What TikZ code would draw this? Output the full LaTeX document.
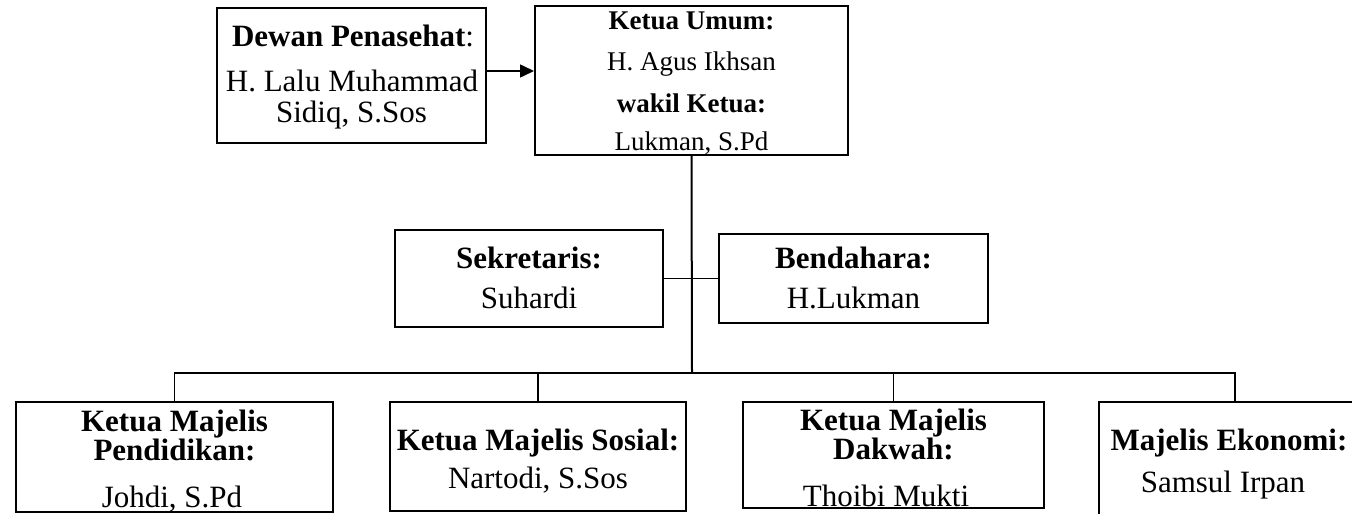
\documentclass[tikz,border=0pt]{standalone}
\usepackage{fontspec}
\setmainfont{Liberation Serif}
\usetikzlibrary{arrows.meta}
\tikzset{
  box/.style={draw=black, line width=2pt, rectangle, inner sep=0pt, fill=white},
  conn/.style={draw=black, line width=1.6pt},
  big/.style={anchor=base, inner sep=0pt, font=\fontsize{31}{31}\selectfont},
  mid/.style={anchor=base, inner sep=0pt, font=\fontsize{27}{27}\selectfont},
}
\begin{document}
\begin{tikzpicture}[x=1pt,y=-1pt]
\useasboundingbox (0,0) rectangle (1352,514);
\clip (0,0) rectangle (1352,514);
\fill[white] (0,0) rectangle (1352,514);

% boxes
\node[box, minimum width=269pt, minimum height=135pt] (dewan) at (351.5,75.5) {};
\node[box, minimum width=313pt, minimum height=149pt] (ketua) at (691.5,80.5) {};
\node[box, minimum width=268pt, minimum height=97pt] (sek) at (529,278.5) {};
\node[box, minimum width=269pt, minimum height=89pt] (bend) at (853.5,278.5) {};
\node[box, minimum width=317pt, minimum height=110pt] (m1) at (174.5,457) {};
\node[box, minimum width=296pt, minimum height=109pt] (m2) at (538,456.5) {};
\node[box, minimum width=301pt, minimum height=106pt] (m3) at (893.5,455) {};
\node[box, minimum width=272pt, minimum height=120pt] (m4) at (1235,462) {};

% connectors
\coordinate (j) at (692,373);
\draw[conn, -{Triangle[length=14pt,width=13pt]}] (dewan.east |- 0,71) -- (ketua.west |- 0,71);
\draw[conn, line width=2pt] (ketua.south) -- (j);
\draw[conn] (sek.east) -- (bend.west);
\draw[conn] (m1.north) -- (m1.north |- j) -- (m4.north |- j) -- (m4.north);
\draw[conn] (m2.north) -- (m2.north |- j);
\draw[conn] (m3.north) -- (m3.north |- j);

% texts: Dewan Penasehat
\node[big] (td1) at (353,46) {\textbf{Dewan Penasehat}:};
\node[big] (td2) at (352,91) {H. Lalu Muhammad};
\node[big] (td3) at (351.5,122) {Sidiq, S.Sos};

% Ketua Umum
\node[mid] (tk1) at (691.5,29) {\textbf{Ketua Umum:}};
\node[mid] (tk2) at (691.5,70) {H. Agus Ikhsan};
\node[mid] (tk3) at (691.5,112) {\textbf{wakil Ketua:}};
\node[mid] (tk4) at (691.5,150) {Lukman, S.Pd};

% Sekretaris / Bendahara
\node[big] (ts1) at (529,268) {\textbf{Sekretaris:}};
\node[big] (ts2) at (529,308) {Suhardi};
\node[big] (tb1) at (853.5,268) {\textbf{Bendahara:}};
\node[big] (tb2) at (853.5,308) {H.Lukman};

% Majelis
\node[big] (t11) at (174.5,431) {\textbf{Ketua Majelis}};
\node[big] (t12) at (174.5,460) {\textbf{Pendidikan:}};
\node[big] (t13) at (172,507) {Johdi, S.Pd};

\node[big] (t21) at (538,450) {\textbf{Ketua Majelis Sosial:}};
\node[big] (t22) at (538,488) {Nartodi, S.Sos};

\node[big] (t31) at (893.5,430) {\textbf{Ketua Majelis}};
\node[big] (t32) at (893.5,459) {\textbf{Dakwah:}};
\node[big] (t33) at (886,506) {Thoibi Mukti};

\node[big] (t41) at (1229,450) {\textbf{Majelis Ekonomi:}};
\node[big] (t42) at (1223,492) {Samsul Irpan};
\end{tikzpicture}
\end{document}
